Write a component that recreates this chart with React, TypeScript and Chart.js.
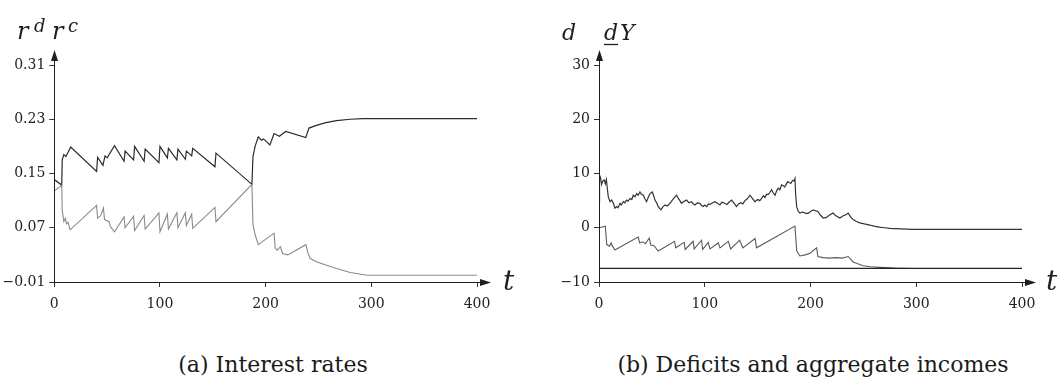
import React, { useEffect, useRef } from "react";
import { Chart, registerables } from "chart.js";

Chart.register(...registerables);

// ---------- data ----------
const xTicks = [0, 100, 200, 300, 400];
const xTickLabels = ["0", "100", "200", "300", "400"];

const leftYTicks = [-0.01, 0.07, 0.15, 0.23, 0.31];
const leftYTickLabels = ["\u22120.01", "0.07", "0.15", "0.23", "0.31"];

const rightYTicks = [-10, 0, 10, 20, 30];
const rightYTickLabels = ["\u221210", "0", "10", "20", "30"];

// r^d (upper) : [t, value]
const rdPoints: [number, number][] = [
  [0, 0.141], [7, 0.133], [7.5, 0.17], [9, 0.178], [11, 0.175],
  [15.5, 0.189], [40, 0.153], [41, 0.174], [46, 0.162], [48, 0.176],
  [50, 0.173], [57, 0.191], [66, 0.168], [67, 0.183], [75, 0.17],
  [76, 0.19], [85, 0.168], [86, 0.186], [99, 0.166], [100, 0.19],
  [107, 0.173], [108, 0.187], [116, 0.17], [117, 0.186], [124, 0.171],
  [125, 0.183], [130, 0.176], [131, 0.187], [152, 0.16], [153, 0.18],
  [187, 0.134], [188, 0.175], [190, 0.19], [193, 0.204], [196, 0.199],
  [198, 0.201], [204, 0.192], [208, 0.209], [213, 0.205], [219, 0.212],
  [238, 0.203], [241, 0.217], [248, 0.221], [257, 0.225], [267, 0.228],
  [280, 0.23], [292, 0.231], [400, 0.231],
];

// r^c (lower)
const rcPoints: [number, number][] = [
  [0, 0.124], [7, 0.133], [7.5, 0.096], [9, 0.079], [10.5, 0.084],
  [11.5, 0.076], [13, 0.078], [15, 0.067], [40, 0.103], [41, 0.084],
  [44, 0.088], [46.5, 0.099], [47.5, 0.082], [52, 0.079], [53, 0.072],
  [57, 0.064], [66, 0.086], [67, 0.07], [75, 0.087], [76, 0.066],
  [85, 0.088], [86, 0.068], [99, 0.092], [100, 0.064], [107, 0.09],
  [108, 0.068], [116, 0.092], [117, 0.07], [124, 0.092], [125, 0.073],
  [130, 0.09], [131, 0.069], [152, 0.1], [153, 0.079], [187, 0.134],
  [188, 0.075], [190, 0.06], [193, 0.045], [208, 0.062], [209, 0.04],
  [211, 0.037], [214, 0.042], [216, 0.032], [221, 0.03], [238, 0.045],
  [240, 0.033], [242, 0.025], [248, 0.02], [257, 0.015], [267, 0.01],
  [280, 0.004], [296, 0.0], [400, 0.0],
];

// aggregate income Y (upper, right panel)
const incomePoints: [number, number][] = [
  [0, 4.8], [0.5, 9.7], [1.5, 9.2], [2.5, 8.0], [3.5, 8.6], [5, 8.8], [6, 8.1], [7, 8.9], [8, 7.0], [8.8, 5.7],
  [10.4, 4.8], [12, 5.1], [13.6, 4.5], [15, 3.6], [16.7, 3.9], [18, 3.7], [19.8, 4.5], [21, 4.2], [23, 4.8], [24.5, 4.6],
  [26, 5.1], [27.5, 4.9], [29.3, 5.4], [31, 5.2], [32.4, 6.0], [34, 5.7], [35.6, 6.3], [37, 6.0], [38.7, 6.6], [40, 6.2],
  [41.9, 6.0], [43.5, 5.3], [45, 4.8], [46.5, 5.6], [48.2, 6.3], [50.4, 6.6], [51.5, 6.0], [52.9, 5.1], [54.5, 4.6], [56, 3.9],
  [58.6, 3.3], [60.5, 3.9], [62.4, 4.2], [64.5, 4.0], [67.1, 4.5], [69, 5.0], [71.8, 5.7], [73.4, 6.0], [75, 5.4], [76.5, 5.0],
  [78, 4.5], [80.5, 4.9], [82.8, 5.1], [85, 4.6], [87.5, 4.8], [89, 4.4], [90.7, 4.2], [93, 4.6], [95.4, 4.5], [97, 4.1],
  [98.5, 3.9], [100, 4.2], [101.8, 3.9], [103.5, 4.4], [105, 4.3], [107.5, 4.6], [109.6, 4.8], [112, 4.5], [114.4, 4.2], [116, 4.7],
  [118, 4.6], [121, 4.3], [123, 4.7], [125.4, 5.1], [127.5, 4.6], [130, 3.9], [132, 4.4], [134, 4.6], [136, 4.4], [138, 5.0],
  [140, 5.3], [142.7, 6.0], [145, 5.4], [147.4, 4.8], [150, 5.2], [152, 5.0], [153.7, 5.4], [155.5, 5.9], [157, 5.6], [158.5, 6.2],
  [160, 6.1], [161.5, 6.5], [163.2, 7.0], [164.8, 6.4], [166.4, 6.0], [168, 6.8], [169.5, 7.3], [171, 7.0], [172.7, 7.9], [174, 7.8],
  [175.5, 7.5], [177, 8.0], [178.5, 8.5], [180, 8.3], [181.5, 8.2], [183, 8.7], [184.3, 8.6], [185.3, 9.1], [186, 6.0], [187, 3.8],
  [188.5, 3.0], [190, 2.7], [192, 2.9], [194, 2.8], [196, 2.6], [198, 2.7], [200, 3.0], [202.6, 3.3], [205, 3.1], [207, 3.0],
  [209.5, 2.3], [212, 1.8], [215, 1.9], [218.4, 2.4], [221.4, 2.7], [224, 2.2], [227.7, 1.8], [231, 2.2], [233.5, 2.4], [235.6, 2.7],
  [238, 2.0], [240.3, 1.5], [243, 1.2], [246.6, 0.9], [251, 0.7], [256, 0.5], [260, 0.3], [265, 0.1], [270, 0.0], [275, -0.1],
  [285, -0.2], [297, -0.3], [400, -0.3],
];

// deficit d (lower, right panel)
const deficitPoints: [number, number][] = [
  [0, 0.0], [6, 0.3], [7.3, -3.1], [10, -3.4], [11.5, -2.8],
  [12.5, -3.3], [15, -4.1], [37, -1.7], [38.5, -2.8], [41, -2.6],
  [44, -2.9], [47.5, -1.9], [49, -3.2], [52, -3.3], [56, -4.3],
  [71.5, -2.5], [72.5, -3.7], [80.5, -2.7], [81.5, -4.0], [89, -2.5],
  [90, -3.9], [97, -2.3], [98, -4.0], [103.3, -2.7], [104.9, -3.9],
  [112.8, -2.8], [114.4, -3.7], [122.3, -2.5], [124.5, -3.9], [133, -2.3],
  [136, -3.7], [147.6, -2.0], [149, -3.7], [185.3, 0.3], [187, -4.3],
  [190, -5.2], [195, -5.0], [199.5, -4.7], [205.8, -3.7], [207, -5.3],
  [212, -5.5], [218, -5.6], [224, -5.5], [230, -5.6], [235.6, -5.3],
  [240.3, -6.3], [244, -6.6], [249.8, -7.0], [257, -7.2], [265.6, -7.3],
  [280, -7.45], [296, -7.5],
];

// minimum deficit d (flat)
const minDeficitPoints: [number, number][] = [
  [0, -7.5], [400, -7.5],
];

// ---------- helpers ----------
const toXY = (pts: [number, number][]) => pts.map(([x, y]) => ({ x, y }));

type LabelItem = {
  text: string;
  x: number;
  y: number;
  size: number;
  italic?: boolean;
  underline?: [number, number, number];
};

const makeDecorPlugin = (items: LabelItem[]) => ({
  id: "decor",
  afterDraw(chart: any) {
    const { ctx, chartArea: a } = chart;
    ctx.save();
    ctx.strokeStyle = "#1e1e1e";
    ctx.fillStyle = "#1e1e1e";
    ctx.lineWidth = 1;
    const x0 = Math.round(a.left) + 0.5;
    const y0 = Math.round(a.bottom) + 0.5;
    const xTip = a.right + 14;
    const yTip = a.top - 15;
    // x axis
    ctx.beginPath();
    ctx.moveTo(x0, y0);
    ctx.lineTo(xTip - 8, y0);
    ctx.stroke();
    ctx.beginPath();
    ctx.moveTo(xTip, y0);
    ctx.lineTo(xTip - 11, y0 - 3.5);
    ctx.lineTo(xTip - 11, y0 + 3.5);
    ctx.closePath();
    ctx.fill();
    // y axis
    ctx.beginPath();
    ctx.moveTo(x0, y0);
    ctx.lineTo(x0, yTip + 8);
    ctx.stroke();
    ctx.beginPath();
    ctx.moveTo(x0, yTip);
    ctx.lineTo(x0 - 3.5, yTip + 11);
    ctx.lineTo(x0 + 3.5, yTip + 11);
    ctx.closePath();
    ctx.fill();
    // math labels
    ctx.textBaseline = "alphabetic";
    ctx.textAlign = "left";
    for (const it of items) {
      ctx.font = `${it.italic ? "italic " : ""}${it.size}px "DejaVu Serif"`;
      ctx.fillText(it.text, it.x, it.y);
      if (it.underline) {
        const [ux0, ux1, uy] = it.underline;
        ctx.beginPath();
        ctx.lineWidth = 1.3;
        ctx.moveTo(ux0, uy);
        ctx.lineTo(ux1, uy);
        ctx.stroke();
        ctx.lineWidth = 1;
      }
    }
    ctx.restore();
  },
});

const makeConfig = (
  datasets: any[],
  yTicks: number[],
  yLabels: string[],
  yWidth: number,
  padRight: number,
  items: LabelItem[]
): any => ({
  type: "line",
  data: { datasets },
  options: {
    animation: false,
    responsive: false,
    events: [],
    layout: { padding: { top: 65, right: padRight, left: 0, bottom: 0 } },
    elements: { point: { radius: 0 }, line: { tension: 0 } },
    plugins: { legend: { display: false }, tooltip: { enabled: false }, title: { display: false } },
    scales: {
      x: {
        type: "linear",
        min: 0,
        max: 400,
        afterBuildTicks: (s: any) => {
          s.ticks = xTicks.map((v) => ({ value: v }));
        },
        afterFit: (s: any) => {
          s.height = 48;
        },
        ticks: {
          autoSkip: false,
          maxRotation: 0,
          padding: 9,
          color: "#222",
          font: { family: "DejaVu Serif", size: 14 },
          callback: (_v: any, i: number) => xTickLabels[i],
        },
        grid: { drawOnChartArea: false, drawTicks: true, tickLength: 5, color: "#333", lineWidth: 1 },
        border: { display: false },
      },
      y: {
        type: "linear",
        min: yTicks[0],
        max: yTicks[yTicks.length - 1],
        afterBuildTicks: (s: any) => {
          s.ticks = yTicks.map((v) => ({ value: v }));
        },
        afterFit: (s: any) => {
          s.width = yWidth;
        },
        ticks: {
          autoSkip: false,
          padding: 4,
          color: "#222",
          font: { family: "DejaVu Serif", size: 14 },
          callback: (_v: any, i: number) => yLabels[i],
        },
        grid: { drawOnChartArea: false, drawTicks: true, tickLength: 5, color: "#333", lineWidth: 1 },
        border: { display: false },
      },
    },
  },
  plugins: [makeDecorPlugin(items)],
});

function ChartCanvas({ config, width, height }: { config: () => any; width: number; height: number }) {
  const ref = useRef<HTMLCanvasElement | null>(null);
  useEffect(() => {
    if (!ref.current) return;
    const chart = new Chart(ref.current, config());
    return () => chart.destroy();
  }, []);
  return <canvas ref={ref} width={width} height={height} style={{ display: "block", width, height }} />;
}

const leftConfig = () =>
  makeConfig(
    [
      { data: toXY(rcPoints), borderColor: "#8a8a8a", borderWidth: 1.1, pointRadius: 0 },
      { data: toXY(rdPoints), borderColor: "#2b2b2b", borderWidth: 1.2, pointRadius: 0 },
    ],
    leftYTicks,
    leftYTickLabels,
    54.3,
    53,
    [
      { text: "r", x: 17, y: 39, size: 24, italic: true },
      { text: "d", x: 34, y: 32, size: 18, italic: true },
      { text: "r", x: 52, y: 39, size: 24, italic: true },
      { text: "c", x: 68, y: 32, size: 18, italic: true },
      { text: "t", x: 503, y: 290, size: 28, italic: true },
    ]
  );

const rightConfig = () =>
  makeConfig(
    [
      { data: toXY(minDeficitPoints), borderColor: "#222", borderWidth: 1.3, pointRadius: 0 },
      { data: toXY(deficitPoints), borderColor: "#5a5a5a", borderWidth: 1.1, pointRadius: 0 },
      { data: toXY(incomePoints), borderColor: "#333", borderWidth: 1.2, pointRadius: 0 },
    ],
    rightYTicks,
    rightYTickLabels,
    69,
    37,
    [
      { text: "d", x: 32, y: 40, size: 22, italic: true },
      { text: "d", x: 74, y: 40, size: 22, italic: true, underline: [74, 88, 44.5] },
      { text: "Y", x: 90, y: 40, size: 22, italic: true },
      { text: "t", x: 516, y: 290, size: 28, italic: true },
    ]
  );

const captionStyle: React.CSSProperties = {
  position: "absolute",
  top: 354,
  width: 460,
  textAlign: "center",
  fontFamily: '"DejaVu Serif", serif',
  fontSize: 22,
  lineHeight: "22px",
  color: "#1a1a1a",
  whiteSpace: "nowrap",
};

export default function App() {
  return (
    <div
      style={{
        position: "fixed",
        left: 0,
        top: 0,
        width: 1059,
        height: 381,
        background: "#fff",
        overflow: "hidden",
      }}
    >
      <div style={{ position: "absolute", left: 0, top: 0 }}>
        <ChartCanvas config={leftConfig} width={530} height={330} />
      </div>
      <div style={{ position: "absolute", left: 530, top: 0 }}>
        <ChartCanvas config={rightConfig} width={529} height={330} />
      </div>
      <div style={{ ...captionStyle, left: 273 - 230 }}>(a) Interest rates</div>
      <div style={{ ...captionStyle, left: 813 - 230 }}>(b) Deficits and aggregate incomes</div>
    </div>
  );
}
